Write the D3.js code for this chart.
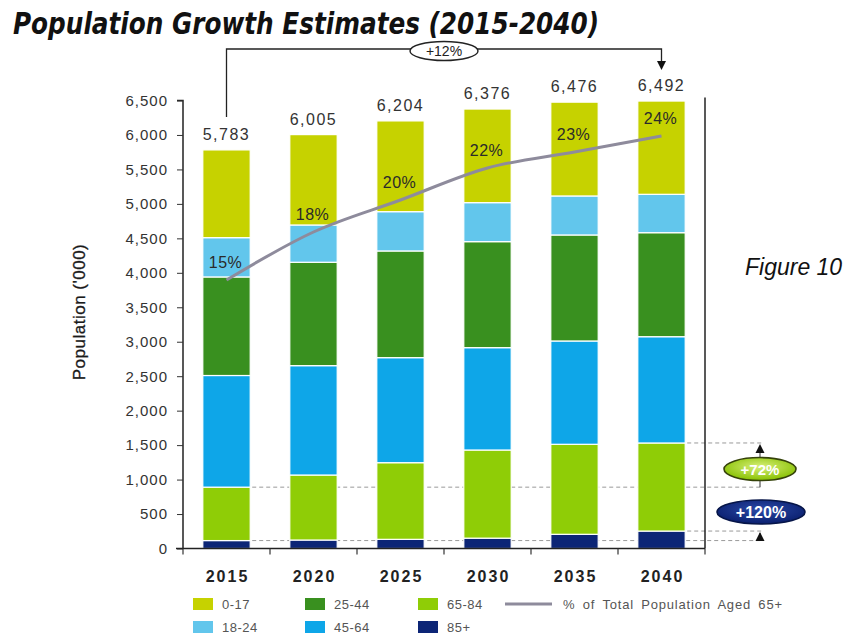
<!DOCTYPE html>
<html>
<head>
<meta charset="utf-8">
<script src="https://cdn.jsdelivr.net/npm/d3@7"></script>
<style>
  body { margin: 0; background: #fff; }
  svg { display: block; }
  text { font-family: Arial, "Liberation Sans", sans-serif; }
</style>
</head>
<body>
<svg id="chart" width="846" height="642"></svg>
<script>
// Population by age group, thousands
const years = ["2015", "2020", "2025", "2030", "2035", "2040"];
const pop85plus = [115, 123, 133, 150, 206, 253];
const pop65to84 = [775, 943, 1112, 1279, 1306, 1278];
const pop45to64 = [1620, 1587, 1524, 1485, 1499, 1542];
const pop25to44 = [1430, 1500, 1548, 1538, 1538, 1509];
const pop18to24 = [570, 541, 570, 566, 566, 557];
const pop0to17 = [1273, 1311, 1317, 1358, 1361, 1353];
const totals = [5783, 6005, 6204, 6376, 6476, 6492];
// % of total population aged 65+
const share65plus = [15, 18, 20, 22, 23, 24];
const yTicks = [0, 500, 1000, 1500, 2000, 2500, 3000, 3500, 4000, 4500, 5000, 5500, 6000, 6500];
const totalGrowthLabel = "+12%";
const growth65Label = "+72%";
const growth85Label = "+120%";

const groupKeys = ["85+", "65-84", "45-64", "25-44", "18-24", "0-17"];
const groupColors = {
  "0-17": "#c6d200",
  "18-24": "#62c6ec",
  "25-44": "#39901f",
  "45-64": "#0ea6e8",
  "65-84": "#8fcd06",
  "85+": "#0c2576"
};
const lineColor = "#8e8b9c";

const rows = years.map((y, i) => ({
  year: y,
  "85+": pop85plus[i],
  "65-84": pop65to84[i],
  "45-64": pop45to64[i],
  "25-44": pop25to44[i],
  "18-24": pop18to24[i],
  "0-17": pop0to17[i]
}));

const svg = d3.select("#chart");

const x = d3.scaleBand().domain(years).range([183, 705])
  .paddingInner(0.455).paddingOuter(0.2275);
const y = d3.scaleLinear().domain([0, 6500]).range([548.5, 100.5]);
const yPct = d3.scaleLinear().domain([0, 30]).range([520, 40]);
const bw = x.bandwidth();
const cx = d => x(d) + bw / 2;

// Title
svg.append("text")
  .attr("x", 13).attr("y", 34)
  .attr("textLength", 586).attr("lengthAdjust", "spacingAndGlyphs")
  .style("font-family", "'Liberation Sans Narrow', 'DejaVu Sans Condensed', Arial, sans-serif")
  .style("font-weight", "bold").style("font-style", "italic")
  .style("font-size", "30px").attr("fill", "#111")
  .text("Population Growth Estimates (2015-2040)");

// Reference lines for the 65+ and 85+ growth brackets (behind the bars)
const refX = 763;
const refLines = [
  { x0: x(years[0]) + bw + 2, v: pop85plus[0] + pop65to84[0] },
  { x0: x(years[0]) + bw + 2, v: pop85plus[0] },
  { x0: x(years[5]) + bw + 2, v: pop85plus[5] + pop65to84[5] },
  { x0: x(years[5]) + bw + 2, v: pop85plus[5] }
];
svg.append("g").selectAll("line").data(refLines).join("line")
  .attr("x1", d => d.x0).attr("x2", refX)
  .attr("y1", d => y(d.v)).attr("y2", d => y(d.v))
  .attr("stroke", "#9a9a9a").attr("stroke-width", 1)
  .attr("stroke-dasharray", "4,3");

// Stacked bars
const stacked = d3.stack().keys(groupKeys)(rows);
svg.append("g").selectAll("g").data(stacked).join("g")
  .attr("fill", s => groupColors[s.key])
  .selectAll("rect").data(s => s).join("rect")
  .attr("x", d => x(d.data.year))
  .attr("width", bw)
  .attr("y", d => y(d[1]))
  .attr("height", d => y(d[0]) - y(d[1]))
  .attr("stroke", "#ffffff").attr("stroke-width", 1.2);

// Y axis
const yAxis = svg.append("g").attr("transform", "translate(183,0)")
  .call(d3.axisLeft(y).tickValues(yTicks).tickSize(6).tickPadding(9)
    .tickFormat(d3.format(",")));
yAxis.select(".domain").attr("stroke", "#222").attr("stroke-width", 1.5)
  .attr("d", `M-6,${y(6500)}H0V${y(0)}`);
yAxis.selectAll(".tick line").attr("stroke", "#333");
yAxis.selectAll(".tick text").attr("fill", "#333")
  .style("font-size", "15px").style("letter-spacing", "1px");

// X axis line with boundary ticks
svg.append("line").attr("x1", 176).attr("x2", 705)
  .attr("y1", y(0)).attr("y2", y(0)).attr("stroke", "#222").attr("stroke-width", 1.5);
const boundaries = years.map(d => x(d) + bw / 2 - x.step() / 2).concat([705]);
svg.append("g").selectAll("line").data(boundaries).join("line")
  .attr("x1", d => d).attr("x2", d => d)
  .attr("y1", y(0)).attr("y2", y(0) + 6)
  .attr("stroke", "#333").attr("stroke-width", 1.2);
svg.append("g").selectAll("text").data(years).join("text")
  .attr("x", d => cx(d) + 1).attr("y", 582)
  .attr("text-anchor", "middle")
  .style("font-size", "16px").style("font-weight", "bold").style("letter-spacing", "2px")
  .attr("fill", "#222").text(d => d);

// Right-hand frame line
svg.append("line").attr("x1", 705).attr("x2", 705)
  .attr("y1", y(6500) - 3).attr("y2", y(0))
  .attr("stroke", "#222").attr("stroke-width", 1.5);

// Y axis title
svg.append("text")
  .attr("transform", "translate(85,312) rotate(-90)")
  .attr("text-anchor", "middle")
  .style("font-size", "17px").style("letter-spacing", "0.5px")
  .attr("fill", "#1a1a1a").attr("stroke", "#1a1a1a").attr("stroke-width", 0.3)
  .text("Population ('000)");

// Totals above bars
svg.append("g").selectAll("text").data(years).join("text")
  .attr("x", (d, i) => cx(d)).attr("y", (d, i) => y(totals[i]) - 10)
  .attr("text-anchor", "middle")
  .style("font-size", "16px").style("letter-spacing", "1.5px")
  .attr("fill", "#333").text((d, i) => d3.format(",")(totals[i]));

// Share of 65+ line
const linePts = years.map((d, i) => [cx(d), yPct(share65plus[i])]);
svg.append("path").datum(linePts)
  .attr("d", d3.line().curve(d3.curveMonotoneX))
  .attr("fill", "none").attr("stroke", lineColor).attr("stroke-width", 3);
svg.append("g").selectAll("text").data(years).join("text")
  .attr("x", d => cx(d) - 1).attr("y", (d, i) => yPct(share65plus[i]) - 12)
  .attr("text-anchor", "middle")
  .style("font-size", "16px").style("letter-spacing", "0.5px")
  .attr("fill", "#2a2a2a").text((d, i) => share65plus[i] + "%");

// +12% bracket from 2015 total to 2040 total
const bx0 = cx(years[0]), bx1 = cx(years[5]);
const bTop = 49;
svg.append("path")
  .attr("d", `M${bx0},${y(totals[0]) - 33}V${bTop}H${bx1}V${y(totals[5]) - 38}`)
  .attr("fill", "none").attr("stroke", "#222").attr("stroke-width", 1.3);
const tipY = y(totals[5]) - 31;
svg.append("path")
  .attr("d", `M${bx1 - 4.5},${tipY - 9}L${bx1 + 4.5},${tipY - 9}L${bx1},${tipY}Z`)
  .attr("fill", "#111");
const ex = (bx0 + bx1) / 2;
svg.append("ellipse").attr("cx", ex).attr("cy", bTop + 2).attr("rx", 34).attr("ry", 9.5)
  .attr("fill", "#fff").attr("stroke", "#222").attr("stroke-width", 1.4);
svg.append("text").attr("x", ex).attr("y", bTop + 7)
  .attr("text-anchor", "middle").style("font-size", "14px")
  .attr("fill", "#222").text(totalGrowthLabel);

// Growth brackets on the right
const defs = svg.append("defs");
const g72 = defs.append("radialGradient").attr("id", "g72").attr("cx", "50%").attr("cy", "40%").attr("r", "60%");
g72.append("stop").attr("offset", "0%").attr("stop-color", "#d8f07a");
g72.append("stop").attr("offset", "100%").attr("stop-color", "#86c000");
const g120 = defs.append("radialGradient").attr("id", "g120").attr("cx", "50%").attr("cy", "40%").attr("r", "60%");
g120.append("stop").attr("offset", "0%").attr("stop-color", "#2b4aa8");
g120.append("stop").attr("offset", "100%").attr("stop-color", "#0a1f6e");

const ax = 760;
const up = (tx, ty) => `M${tx - 4.5},${ty + 9}L${tx + 4.5},${ty + 9}L${tx},${ty}Z`;
const top65 = y(pop85plus[5] + pop65to84[5]), base65 = y(pop85plus[0] + pop65to84[0]);
svg.append("line").attr("x1", ax).attr("x2", ax).attr("y1", top65 + 4).attr("y2", base65)
  .attr("stroke", "#333").attr("stroke-width", 1);
svg.append("path").attr("d", up(ax, top65 + 1)).attr("fill", "#111");
const top85 = y(pop85plus[5]), base85 = y(pop85plus[0]);
svg.append("line").attr("x1", ax).attr("x2", ax).attr("y1", top85 + 2).attr("y2", base85)
  .attr("stroke", "#333").attr("stroke-width", 1);
svg.append("path").attr("d", up(ax, top85 + 1)).attr("fill", "#111");

const e72y = (top65 + base65) / 2 + 4;
svg.append("ellipse").attr("cx", ax).attr("cy", e72y).attr("rx", 36).attr("ry", 11.5)
  .attr("fill", "url(#g72)").attr("stroke", "#35420a").attr("stroke-width", 1.6);
svg.append("text").attr("x", ax).attr("y", e72y + 5.5)
  .attr("text-anchor", "middle").style("font-size", "15px").style("font-weight", "bold")
  .attr("fill", "#fff").text(growth65Label);

const e120y = 512;
svg.append("ellipse").attr("cx", ax + 1).attr("cy", e120y).attr("rx", 44).attr("ry", 12)
  .attr("fill", "url(#g120)").attr("stroke", "#061548").attr("stroke-width", 1.6);
svg.append("text").attr("x", ax + 1).attr("y", e120y + 6)
  .attr("text-anchor", "middle").style("font-size", "16px").style("font-weight", "bold")
  .attr("fill", "#fff").text(growth85Label);

// Figure caption
svg.append("text").attr("x", 745).attr("y", 275)
  .style("font-size", "23px").style("font-style", "italic")
  .attr("fill", "#111").text("Figure 10");

// Legend
const legendItems = [
  { key: "0-17", col: 0, row: 0 },
  { key: "18-24", col: 0, row: 1 },
  { key: "25-44", col: 1, row: 0 },
  { key: "45-64", col: 1, row: 1 },
  { key: "65-84", col: 2, row: 0 },
  { key: "85+", col: 2, row: 1 }
];
const colX = [193, 305, 418];
const rowY = [604, 627];
const leg = svg.append("g");
leg.selectAll("rect").data(legendItems).join("rect")
  .attr("x", d => colX[d.col]).attr("y", d => rowY[d.row] - 6)
  .attr("width", 20).attr("height", 12)
  .attr("fill", d => groupColors[d.key]);
leg.selectAll("text.lg").data(legendItems).join("text").attr("class", "lg")
  .attr("x", d => colX[d.col] + 29).attr("y", d => rowY[d.row] + 5)
  .style("font-size", "13px").style("letter-spacing", "0.5px")
  .attr("fill", "#555").text(d => d.key);
leg.append("line").attr("x1", 505).attr("x2", 552).attr("y1", rowY[0]).attr("y2", rowY[0])
  .attr("stroke", lineColor).attr("stroke-width", 3);
leg.append("text").attr("x", 563).attr("y", rowY[0] + 5)
  .style("font-size", "13px").style("letter-spacing", "0.8px").style("word-spacing", "3px")
  .attr("fill", "#555").text("% of Total Population Aged 65+");
</script>
</body>
</html>
